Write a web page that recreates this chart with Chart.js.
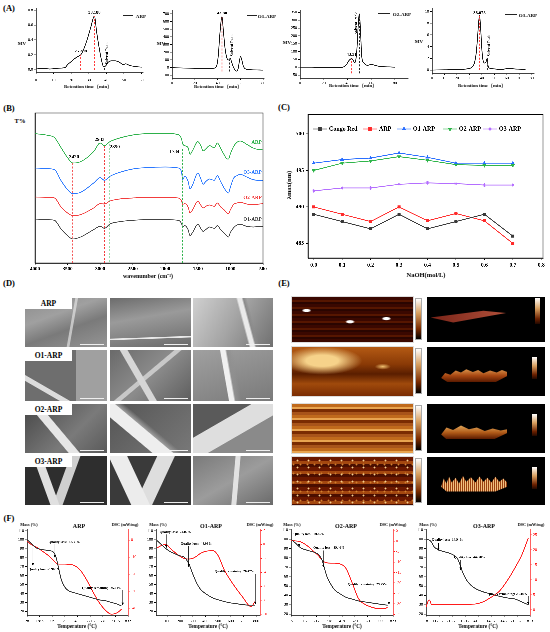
<!DOCTYPE html>
<html>
<head>
<meta charset="utf-8">
<title>ARP characterisation</title>
<script src="https://cdn.jsdelivr.net/npm/chart.js@4.4.1/dist/chart.umd.min.js"></script>
<style>
  body { margin:0; width:550px; height:632px; position:relative; overflow:hidden; background:#fff; }
  canvas { position:absolute; }
  .t { position:absolute; white-space:nowrap; line-height:1; font-family:'Liberation Serif','Times New Roman',serif; font-weight:bold; color:#000; }
  .tile { position:absolute; overflow:hidden; }
</style>
</head>
<body>
<script>
// ---- (A) HPGPC chromatograms ----
const rtARP = [0,4,8,12,16.5,18,20,22,24,25.4,27,29,31,33.19,34.5,36,37.5,38.5,39.5,41,43,45,47.5,49.5,51,53,56,60];
const mvARP = [0.01,0.02,0.01,0.02,0.03,0.07,0.11,0.15,0.18,0.2,0.27,0.4,0.56,0.72,0.5,0.28,0.1,0.04,0.05,0.1,0.12,0.12,0.1,0.07,0.08,0.06,0.045,0.035];
const rtO1 = [0,10,20,30,36,39,40.5,42,43.8,45,46.5,48,49.5,51,52.5,54,56.5,58,59,60,61,62.5,65,70,80];
const mvO1 = [0,-5,-8,-10,-8,20,150,450,665,480,250,130,100,120,60,0,-45,-10,80,145,110,20,-20,-28,-32];
const rtO2 = [0,10,20,30,36,39,41,43.5,45,46,47,48,49,50,51,52,54,57,60,63,67,75,80];
const mvO2 = [0,0,-2,-3,0,15,40,55,42,28,45,120,260,340,230,70,25,12,18,12,5,2,0];
const rtO3 = [0,10,20,28,32,34,35.5,36.5,37.5,38.08,39,40,41,42.5,43.5,44.2,45,46.5,50,55,60,62,66,70,75];
const mvO3 = [0,0.05,0.1,0.2,0.5,1.2,3,5.5,8.4,9.3,7.2,3.5,1.6,1.2,1.5,2.0,0.7,0.3,0.2,0.1,0.25,0.3,0.2,0.15,0.1];

// ---- (B) FT-IR ----
const wavenumber = [4000,3800,3700,3600,3500,3420,3300,3100,3000,2933,2850,2700,2500,2300,2000,1800,1750,1734,1700,1650,1620,1580,1500,1450,1420,1380,1320,1250,1200,1150,1100,1050,1030,1000,950,900,850,750,650,550,500];
const irARP = [388,383,376,346,316,300,304,334,360,352,364,375,384,388,389,385,372,358,352,346,326,338,364,350,336,342,352,346,360,344,326,312,312,328,350,362,366,356,345,340,342];
const irO3 = [285,283,280,247,220,208,212,240,256,248,260,272,282,286,288,285,272,250,260,245,222,235,270,250,236,244,252,248,262,244,226,212,210,228,255,262,266,258,250,248,248];
const irO2 = [198,197,195,168,150,142,145,165,178,177,186,192,195,197,197,195,186,176,178,168,150,160,185,172,165,170,174,170,180,168,160,150,148,160,176,180,182,177,175,177,178];
const irO1 = [132,130,128,102,82,72,78,100,110,104,117,124,128,130,130,128,118,108,112,100,82,92,116,102,95,100,108,104,112,100,90,80,78,92,106,114,116,110,108,110,110];

// ---- (C) Congo red, lambda max ----
const naoh = [0,0.1,0.2,0.3,0.4,0.5,0.6,0.7];
const lamCongo = [489,488,487,489,487,488,489,486];
const lamARP = [490,489,488,490,488.1,489.1,488.1,485];
const lamO1 = [496,496.5,496.7,497.4,496.8,496,496,496];
const lamO2 = [495,496,496.3,496.9,496.4,495.8,495.7,495.7];
const lamO3 = [492.2,492.6,492.6,493.1,493.3,493.2,493,493];

// ---- (F) TG-DSC ----
const tempARP = [30,60,100,150,200,240,260,280,300,330,360,400,450,500,550,600,650,700,750,780];
const massARP = [100,96,91,89,88,86,80,68,56,47,43,41,39,37,35,33,32,30,28,26];
const dscARP = [-0.6,-2.5,-4,-6.5,-9.2,-12,-13.5,-14.1,-14.1,-14.1,-14.3,-14.8,-17.5,-23,-30,-36.4,-41,-43.5,-42.5,-40.6];
const tempO1 = [20,50,90,120,150,200,230,270,300,330,360,400,460,500,550,600,650,700,740,760,790];
const massO1 = [99,95,90,87,85,82,81,73,62,52,45,40,35,33,31,29.5,28.5,27.5,27,27,27];
const dscO1 = [-0.5,-0.2,0,-0.5,-1,-1.7,-2,-2.1,-2,-1.7,-1.3,-1,-0.9,-1.6,-3.7,-5.2,-6.5,-7.7,-8.7,-8.9,-8.2];
const tempO2 = [15,50,90,150,200,230,260,280,300,330,360,400,450,500,550,600,650,700,750,780];
const massO2 = [100,96,91,88,86,84,78,69,60,52,46,42,38,36,34,33,32,31,30,29.5];
const dscO2 = [0.3,0.1,-0.3,-2.5,-5.2,-6.8,-9,-10,-10.4,-10.5,-10.5,-10.8,-13,-20,-27.5,-30.2,-31.5,-32.2,-32.3,-31.7];
const tempO3 = [20,35,45,60,80,110,150,200,230,260,280,300,330,360,400,450,500,580,650,700,750,800];
const massO3 = [100,99.5,99,97,92,89,87,85,83,79,72,64,56,51,47,44,42,39,37,36,33,30];
const dscO3 = [1.1,3,3.3,1.8,1.7,1.8,1.8,1.8,1.8,1.8,1.8,1.8,1.8,1.9,2,2.6,3.8,6.3,10.5,14.2,18.3,24];

const FONT = "'Liberation Serif','Times New Roman',serif";

// text and marks drawn on top of a chart, placed through its scales
Chart.register({
  id: 'marks',
  afterDatasetsDraw(chart, args, o) {
    const ctx = chart.ctx, a = chart.chartArea;
    const X = v => chart.scales.x.getPixelForValue(v);
    const Y = v => chart.scales.y.getPixelForValue(v);
    ctx.save();
    if (o.box) {
      ctx.strokeStyle = '#000'; ctx.lineWidth = 0.8;
      ctx.strokeRect(a.left, a.top, a.right - a.left, a.bottom - a.top);
    }
    (o.vlines || []).forEach(l => {
      ctx.strokeStyle = l.color; ctx.lineWidth = 0.8; ctx.setLineDash([2, 1.5]);
      ctx.beginPath(); ctx.moveTo(X(l.x), Y(l.y1)); ctx.lineTo(X(l.x), Y(l.y2)); ctx.stroke();
    });
    ctx.setLineDash([]);
    (o.arrows || []).forEach(l => {
      const x = X(l.x), y1 = Y(l.y1), y2 = Y(l.y2), d = y2 > y1 ? 1 : -1;
      ctx.strokeStyle = '#000'; ctx.fillStyle = '#000'; ctx.lineWidth = 0.5;
      ctx.beginPath(); ctx.moveTo(x, y1); ctx.lineTo(x, y2); ctx.stroke();
      ctx.beginPath(); ctx.moveTo(x, y2); ctx.lineTo(x - 1.2, y2 - d * 2.6); ctx.lineTo(x + 1.2, y2 - d * 2.6); ctx.closePath(); ctx.fill();
    });
    (o.texts || []).forEach(t => {
      ctx.save();
      ctx.translate(X(t.x), Y(t.y));
      if (t.rot) ctx.rotate(t.rot * Math.PI / 180);
      ctx.font = 'bold ' + (t.size || 4.5) + 'px ' + FONT;
      ctx.fillStyle = t.color || '#000';
      ctx.textAlign = t.align || 'center'; ctx.textBaseline = 'middle';
      ctx.fillText(t.s, 0, 0);
      ctx.restore();
    });
    if (o.legend) {
      const L = o.legend;
      L.items.forEach(it => {
        ctx.strokeStyle = it.color; ctx.fillStyle = it.color; ctx.lineWidth = 0.9;
        ctx.beginPath(); ctx.moveTo(it.x, L.y); ctx.lineTo(it.x + 14, L.y); ctx.stroke();
        Chart.helpers.drawPoint(ctx, { pointStyle: it.style, radius: 1.7, rotation: it.rot || 0, borderWidth: 0.8 }, it.x + 7, L.y);
        ctx.font = 'bold 6px ' + FONT; ctx.fillStyle = '#000'; ctx.textAlign = 'left'; ctx.textBaseline = 'middle';
        ctx.fillText(it.s, it.x + 16, L.y);
      });
    }
    ctx.restore();
  }
});

function scale(o) {
  const c = o.color || '#000';
  return {
    type: 'linear', position: o.pos || 'bottom', min: o.min, max: o.max, reverse: !!o.reverse,
    grid: { drawOnChartArea: false, drawTicks: o.noTicks ? false : true, tickLength: 2, color: c, lineWidth: 0.6 },
    border: { display: true, color: c, width: 0.8 },
    ticks: {
      display: o.labels !== false, stepSize: o.step, includeBounds: false, autoSkip: false,
      maxRotation: 0, minRotation: 0, padding: o.pad === undefined ? 1 : o.pad, color: c,
      font: { family: FONT, size: o.fs || 4.5, weight: o.bold ? 'bold' : 'normal' },
      callback: o.fmt || (v => String(Math.round(v * 1000) / 1000))
    }
  };
}

// area = chart area in page px [l,t,r,b]; m = margins [left,top,right,bottom]
function makeChart(area, m, cfg) {
  const c = document.createElement('canvas');
  const w = area[2] - area[0] + m[0] + m[2], h = area[3] - area[1] + m[1] + m[3];
  c.width = w; c.height = h;
  c.style.left = (area[0] - m[0]) + 'px'; c.style.top = (area[1] - m[1]) + 'px';
  c.style.width = w + 'px'; c.style.height = h + 'px';
  document.body.appendChild(c);
  let hasRight = false;
  Object.values(cfg.options.scales).forEach(s => {
    const p = s.position;
    if (p === 'right') hasRight = true;
    s.afterFit = ax => { if (p === 'bottom') ax.height = m[3]; else if (p === 'left') ax.width = m[0]; else ax.width = m[2]; };
  });
  Object.assign(cfg.options, { responsive: false, animation: false, devicePixelRatio: 3, events: [],
    layout: { padding: { top: m[1], right: hasRight ? 0 : m[2], left: 0, bottom: 0 } } });
  cfg.options.plugins = Object.assign({ legend: { display: false }, tooltip: { enabled: false } }, cfg.options.plugins);
  return new Chart(c, cfg);
}

function xy(xs, ys) { return xs.map((x, i) => ({ x: x, y: ys[i] })); }
function curve(data, color, extra) {
  return Object.assign({ data: data, borderColor: color, backgroundColor: color, borderWidth: 0.8,
    pointRadius: 0, cubicInterpolationMode: 'monotone', fill: false }, extra || {});
}

function txt(x, y, s, fs, o) {
  o = o || {};
  const d = document.createElement('div');
  d.className = 't'; d.textContent = s;
  d.style.left = x + 'px'; d.style.top = y + 'px'; d.style.fontSize = fs + 'px';
  if (o.color) d.style.color = o.color;
  d.style.transform = 'translate(-50%,-50%)' + (o.rot ? ' rotate(' + o.rot + 'deg)' : '');
  document.body.appendChild(d);
}
function keyLine(x1, x2, y) {
  const d = document.createElement('div');
  d.style.cssText = 'position:absolute;left:' + x1 + 'px;top:' + y + 'px;width:' + (x2 - x1) + 'px;border-top:1px solid #222;';
  document.body.appendChild(d);
}
function tile(x0, y0, x1, y1, bg, css) {
  const d = document.createElement('div');
  d.className = 'tile';
  d.style.cssText += 'left:' + x0 + 'px;top:' + y0 + 'px;width:' + (x1 - x0) + 'px;height:' + (y1 - y0) + 'px;background:' + bg + ';' + (css || '');
  document.body.appendChild(d);
  return d;
}

// panel letters
txt(9, 8, '(A)', 8.5); txt(9, 108, '(B)', 8.5); txt(284, 107, '(C)', 8.5);
txt(9, 283, '(D)', 8.5); txt(284, 283, '(E)', 8.5); txt(9, 518, '(F)', 8.5);

// ---- (A) ----
const redDash = '#ff3b3b';
makeChart([36, 8, 143, 72], [16, 4, 8, 14], {
  type: 'line', data: { datasets: [curve(xy(rtARP, mvARP), '#111')] },
  options: {
    scales: { x: scale({ min: 0, max: 60.8, step: 10, pad: 4, fs: 4 }), y: scale({ pos: 'left', min: -0.03, max: 0.83, step: 0.2, fs: 4, fmt: v => v.toFixed(1) }) },
    plugins: { marks: {
      vlines: [{ x: 25.4, y1: 0, y2: 0.2, color: redDash }, { x: 33.19, y1: 0, y2: 0.72, color: redDash }, { x: 38.8, y1: 0, y2: 0.05, color: '#222' }],
      texts: [{ x: 33.19, y: 0.77, s: '33.188' }, { x: 25.4, y: 0.25, s: '25.398' }, { x: 40.3, y: 0.22, s: 'Solvent Peak', rot: -90, size: 4 }]
    } }
  }
});
makeChart([172, 10, 264, 78], [14, 4, 8, 10], {
  type: 'line', data: { datasets: [curve(xy(rtO1, mvO1), '#111')] },
  options: {
    scales: { x: scale({ min: 0, max: 80.6, step: 20, pad: 1, fs: 4 }), y: scale({ pos: 'left', min: -135, max: 752, step: 100, fs: 4 }) },
    plugins: { marks: {
      vlines: [{ x: 43.8, y1: -50, y2: 660, color: redDash }, { x: 50.5, y1: -50, y2: 95, color: '#222' }],
      texts: [{ x: 43.8, y: 712, s: '43.80' }, { x: 52.6, y: 290, s: 'Solvent Peak', rot: -90, size: 4 }]
    } }
  }
});
makeChart([300, 10, 408, 78], [14, 4, 8, 10], {
  type: 'line', data: { datasets: [curve(xy(rtO2, mvO2), '#111')] },
  options: {
    scales: { x: scale({ min: 0, max: 91, step: 20, pad: 1, fs: 4 }), y: scale({ pos: 'left', min: -69, max: 365, step: 50, fs: 4 }) },
    plugins: { marks: {
      vlines: [{ x: 43.5, y1: -40, y2: 55, color: redDash }, { x: 50, y1: -40, y2: 335, color: '#222' }],
      texts: [{ x: 43.5, y: 80, s: '43.51' }, { x: 47.4, y: 280, s: 'Solvent Peak', rot: -90, size: 4 }]
    } }
  }
});
makeChart([432, 8, 534, 73], [14, 4, 8, 10], {
  type: 'line', data: { datasets: [curve(xy(rtO3, mvO3), '#111')] },
  options: {
    scales: { x: scale({ min: 0, max: 81.8, step: 10, pad: 1, fs: 4 }), y: scale({ pos: 'left', min: -0.5, max: 10.6, step: 2, fs: 4 }) },
    plugins: { marks: {
      vlines: [{ x: 38.08, y1: 0, y2: 9.3, color: redDash }, { x: 44.3, y1: 0, y2: 2, color: '#222' }],
      texts: [{ x: 38.08, y: 9.8, s: '38.078' }, { x: 45.8, y: 4.2, s: 'Solvent Peak', rot: -90, size: 4 }]
    } }
  }
});
txt(22, 43, 'MV', 5); txt(161, 43, 'MV', 5); txt(287, 42, 'MV', 5); txt(419, 41, 'MV', 5);
txt(88, 87, 'Retention time（min）', 4.8); txt(218, 87, 'Retention time（min）', 4.8);
txt(353, 86, 'Retention time（min）', 4.8); txt(482, 86, 'Retention time（min）', 4.8);
keyLine(123, 133, 15); txt(141, 15.5, 'ARP', 5);
keyLine(247, 257, 15); txt(267, 15.5, 'O1-ARP', 5);
keyLine(378, 390, 13); txt(402, 13.5, 'O2-ARP', 5);
keyLine(505, 517, 14); txt(528, 14.5, 'O3-ARP', 5);

// ---- (B) ----
const cGreen = '#2db14a', cBlue = '#2a78ff', cRed = '#f23c3c', cGray = '#444';
makeChart([33, 113, 263, 263], [4, 4, 8, 14], {
  type: 'line',
  data: { datasets: [
    curve(xy(wavenumber, irARP), cGreen), curve(xy(wavenumber, irO3), cBlue),
    curve(xy(wavenumber, irO2), cRed), curve(xy(wavenumber, irO1), cGray)
  ] },
  options: {
    scales: { x: scale({ min: 500, max: 4000, step: 500, reverse: true, bold: true, fs: 5 }), y: scale({ pos: 'left', min: 0, max: 450, labels: false, noTicks: true }) },
    plugins: { marks: {
      box: true,
      vlines: [{ x: 3420, y1: 300, y2: 0, color: cRed }, { x: 2933, y1: 352, y2: 0, color: cRed },
               { x: 2850, y1: 356, y2: 0, color: cGreen }, { x: 1734, y1: 342, y2: 0, color: cGreen }],
      texts: [{ x: 3400, y: 318, s: '3420', size: 5 }, { x: 3008, y: 370, s: '2933', size: 5 },
              { x: 2775, y: 348, s: '2850', size: 5 }, { x: 1860, y: 334, s: '1734', size: 5 },
              { x: 520, y: 362, s: 'ARP', size: 5, align: 'right', color: cGreen },
              { x: 520, y: 272, s: 'O3-ARP', size: 5, align: 'right', color: cBlue },
              { x: 520, y: 196, s: 'O2-ARP', size: 5, align: 'right', color: cRed },
              { x: 520, y: 131, s: 'O1-ARP', size: 5, align: 'right', color: cGray }]
    } }
  }
});
txt(20, 121, 'T%', 6.5);
txt(148, 276, 'wavenumber (cm⁻¹)', 6);

// ---- (C) ----
const cPurple = '#b46eff';
function pts(ys, color, style, rot) {
  return { data: xy(naoh, ys), borderColor: color, backgroundColor: color, borderWidth: 0.9,
    pointStyle: style, pointRotation: rot || 0, pointRadius: 1.7, pointBorderWidth: 0.6, fill: false };
}
makeChart([308, 113, 543, 258], [18, 4, 6, 12], {
  type: 'line',
  data: { datasets: [
    pts(lamCongo, '#3a3a3a', 'rect'), pts(lamARP, '#ff2a2a', 'rect'), pts(lamO1, '#2a6fff', 'triangle'),
    pts(lamO2, '#2fb54a', 'triangle', 180), pts(lamO3, cPurple, 'star')
  ] },
  options: {
    scales: { x: scale({ min: -0.02, max: 0.806, step: 0.1, bold: true, fs: 5.5, pad: 2, fmt: v => v.toFixed(1) }),
              y: scale({ pos: 'left', min: 483, max: 502.7, step: 5, bold: true, fs: 5.5, pad: 2 }) },
    plugins: { marks: {
      box: true,
      legend: { y: 20, items: [
        { x: 23, s: 'Congo Red', color: '#3a3a3a', style: 'rect' },
        { x: 73, s: 'ARP', color: '#ff2a2a', style: 'rect' },
        { x: 107, s: 'O1-ARP', color: '#2a6fff', style: 'triangle' },
        { x: 153, s: 'O2-ARP', color: '#2fb54a', style: 'triangle', rot: 180 },
        { x: 193, s: 'O3-ARP', color: cPurple, style: 'star' }
      ] }
    } }
  }
});
txt(289, 185, 'λmax(nm)', 6.5, { rot: -90 });
txt(426, 275, 'NaOH(mol/L)', 6.5);

// ---- (D) SEM micrographs ----
const semCols = [[25, 107], [110, 191], [193, 273]];
const semRows = [[298, 347], [350, 401], [404, 453], [456, 505]];
const semBg = [
  ['linear-gradient(100deg,transparent 55%,rgba(225,225,225,.7) 56% 58%,transparent 59%),linear-gradient(160deg,#8c8c8c 0%,#a0a0a0 35%,#7a7a7a 60%,#959595 100%)',
   'linear-gradient(178deg,transparent 78%,#e8e8e8 79% 81%,transparent 82%),linear-gradient(170deg,#6c6c6c,#9a9a9a 40%,#828282 70%,#6a6a6a)',
   'linear-gradient(75deg,transparent 60%,#eaeaea 62% 66%,#8a8a8a 68%,transparent 72%),linear-gradient(120deg,#d0d0d0,#a4a4a4 50%,#707070)'],
  ['linear-gradient(30deg,transparent 20%,#dcdcdc 21% 26%,transparent 27%),linear-gradient(90deg,#6e6e6e 0 62%,#a0a0a0 62% 100%)',
   'linear-gradient(60deg,transparent 35%,#d6d6d6 36% 42%,transparent 43%),linear-gradient(140deg,transparent 45%,#c8c8c8 46% 50%,transparent 51%),linear-gradient(135deg,#6a6a6a,#8c8c8c,#5e5e5e)',
   'linear-gradient(80deg,transparent 40%,#f0f0f0 41% 46%,#909090 48%,transparent 55%),linear-gradient(160deg,#a0a0a0,#7a7a7a)'],
  ['linear-gradient(50deg,transparent 35%,#e6e6e6 36% 44%,transparent 45%),linear-gradient(135deg,#474747,#7a7a7a 60%,#5a5a5a)',
   'linear-gradient(40deg,transparent 30%,#eeeeee 31% 45%,#9a9a9a 46%,transparent 52%),linear-gradient(135deg,#555,#787878)',
   'linear-gradient(150deg,#5a5a5a 0 35%,#dedede 36% 60%,#8a8a8a 61% 100%)'],
  ['linear-gradient(70deg,transparent 25%,#e0e0e0 26% 34%,transparent 35%),linear-gradient(110deg,transparent 45%,#cfcfcf 46% 55%,transparent 56%),#2e2e2e',
   'linear-gradient(65deg,transparent 20%,#ececec 21% 38%,transparent 39%),linear-gradient(115deg,transparent 45%,#dedede 46% 62%,transparent 63%),#3a3a3a',
   'linear-gradient(95deg,transparent 50%,#e2e2e2 51% 56%,transparent 57%),linear-gradient(150deg,#7a7a7a,#9c9c9c 50%,#6a6a6a)']
];
const semNames = ['ARP', 'O1-ARP', 'O2-ARP', 'O3-ARP'];
semRows.forEach((r, i) => {
  semCols.forEach((c, j) => {
    const d = tile(c[0], r[0], c[1], r[1], semBg[i][j]);
    const bar = document.createElement('div');
    bar.style.cssText = 'position:absolute;right:3px;bottom:2px;width:24px;border-top:1px solid #eee;';
    d.appendChild(bar);
  });
  const lab = tile(25, r[0], 72, r[0] + 11, '#fff');
  lab.className = 'tile t';
  lab.style.cssText += 'font-size:7.5px;text-align:center;line-height:11px;';
  lab.textContent = semNames[i];
});

// ---- (E) AFM images ----
const afmRows = [[297, 342], [347, 396], [404, 453], [457, 505]];
const afmLeft = [
  'radial-gradient(ellipse 5px 2px at 12% 30%,#fff 0 55%,transparent 100%),radial-gradient(ellipse 5px 2px at 48% 55%,#fff 0 55%,transparent 100%),radial-gradient(ellipse 5px 2px at 78% 48%,#fff 0 55%,transparent 100%),repeating-linear-gradient(180deg,#3a0800 0 3px,#561600 3px 5px,#2a0500 5px 7px)',
  'radial-gradient(ellipse 40px 14px at 25% 28%,#f6d28a 0 40%,transparent 100%),radial-gradient(ellipse 8px 3px at 75% 40%,#f0c070,transparent),linear-gradient(180deg,#b45a14 0%,#8a3a06 35%,#5a1e00 55%,#a04a0c 75%,#7a2c02 100%)',
  'repeating-linear-gradient(180deg,#c06a1c 0 3px,#e8a450 3px 5px,#7a2c02 5px 8px,#a8541a 8px 11px)',
  'radial-gradient(circle,#f4d090 0 0.7px,transparent 1.2px) 0 0/11px 7px,radial-gradient(circle,#d08030 0 0.7px,transparent 1.2px) 5px 3px/7px 9px,repeating-linear-gradient(180deg,#6a1800 0 4px,#a44810 4px 7px,#4a0e00 7px 10px)'
];
const afmShape = [
  'polygon(0% 62%,70% 22%,100% 36%,30% 92%)',
  'polygon(0% 75%,6% 45%,14% 55%,22% 30%,30% 42%,38% 22%,48% 38%,56% 26%,64% 46%,74% 30%,84% 42%,92% 26%,100% 38%,100% 62%,82% 100%,10% 100%)',
  'polygon(0% 72%,8% 30%,18% 44%,30% 18%,42% 40%,54% 30%,66% 50%,78% 36%,90% 48%,100% 40%,100% 62%,80% 100%,8% 100%)',
  'polygon(0% 70%,4% 20%,8% 50%,12% 10%,16% 45%,22% 15%,27% 50%,33% 5%,38% 40%,45% 12%,52% 45%,58% 8%,64% 40%,70% 15%,76% 45%,82% 10%,88% 40%,94% 20%,100% 45%,100% 70%,82% 100%,8% 100%)'
];
const afmShapeBg = [
  'linear-gradient(90deg,#7a2418,#b0503a)',
  'linear-gradient(180deg,#f2b866,#a84812 60%,#5a1a00)',
  'linear-gradient(180deg,#f0c070,#b05a18 60%,#5a1a00)',
  'repeating-linear-gradient(90deg,#f0c080 0 1px,#9a4010 1px 2px)'
];
afmRows.forEach((r, i) => {
  tile(292, r[0], 413, r[1], afmLeft[i], 'outline:1px solid #ddd;');
  tile(416, r[0] + 2, 421, r[1] - 3, 'linear-gradient(#fff,#d8a060 35%,#7a2a00 75%,#000)', 'outline:0.5px solid #aaa;');
  const right = tile(427, r[0], 545, r[1], '#000');
  const s = document.createElement('div');
  s.style.cssText = 'position:absolute;left:' + (i === 0 ? 3 : 12) + '%;top:' + (i === 0 ? 22 : 38) + '%;width:' + (i === 0 ? 64 : 56) + '%;height:' + (i === 0 ? 38 : 34) + '%;background:' + afmShapeBg[i] + ';clip-path:' + afmShape[i] + ';';
  right.appendChild(s);
  const cb = document.createElement('div');
  cb.style.cssText = 'position:absolute;right:' + (i === 0 ? 5 : 8) + 'px;top:' + (i === 0 ? 1 : 10) + 'px;width:5px;height:' + (i === 0 ? 26 : 22) + 'px;background:linear-gradient(#fff,#d8a060 40%,#6a2000 80%,#200800);';
  right.appendChild(cb);
});

// ---- (F) TG-DSC ----
function tgChart(area, xr, lr, rr, temp, mass, dsc, notes) {
  return makeChart(area, [12, 4, 12, 10], {
    type: 'line',
    data: { datasets: [
      curve(xy(temp, mass), '#333', { yAxisID: 'y', borderWidth: 0.9 }),
      curve(xy(temp, dsc), '#ff1a1a', { yAxisID: 'y2', borderWidth: 0.9 })
    ] },
    options: {
      scales: {
        x: scale({ min: xr[0], max: xr[1], step: 100, pad: 2, fs: 4 }),
        y: scale({ pos: 'left', min: lr[0], max: lr[1], step: 10, fs: 4 }),
        y2: scale({ pos: 'right', min: rr[0], max: rr[1], step: rr[2], fs: 4, color: '#ff1a1a' })
      },
      plugins: { marks: notes }
    }
  });
}
tgChart([27, 529, 128, 615], [28, 832], [16, 112], [-44, 6.5, 10], tempARP, massARP, dscARP, {
  arrows: [{ x: 75, y1: 91, y2: 71 }, { x: 250, y1: 95, y2: 80 }, { x: 790, y1: 44, y2: 27 }],
  texts: [{ x: 40, y: 67, s: 'Quality loss: -5.968%', size: 3.4, align: 'left' },
          { x: 200, y: 97.5, s: 'Quality loss: -48.30%', size: 3.4, align: 'left' },
          { x: 780, y: 46, s: 'Quality remaining: 25.41%', size: 3.4, align: 'right' }]
});
tgChart([156, 529, 260, 615], [11, 830], [16, 112], [-10.1, 2.2, 2], tempO1, massO1, dscO1, {
  arrows: [{ x: 92, y1: 106, y2: 91 }, { x: 268, y1: 93, y2: 70 }, { x: 793, y1: 62, y2: 28 }],
  texts: [{ x: 40, y: 108.5, s: 'Quality loss: -24.02%', size: 3.4, align: 'left' },
          { x: 205, y: 95.5, s: 'Quality loss: -48.03%', size: 3.4, align: 'left' },
          { x: 785, y: 64.5, s: 'Quality remaining: 26.47%', size: 3.4, align: 'right' }]
});
tgChart([291, 529, 393, 615], [15, 823], [19, 111], [-35.3, 5.8, 5], tempO2, massO2, dscO2, {
  arrows: [{ x: 79, y1: 104, y2: 92 }, { x: 271, y1: 88, y2: 70 }, { x: 791, y1: 48, y2: 30 }],
  texts: [{ x: 34, y: 105.5, s: 'Quality loss: -20.85%', size: 3.4, align: 'left' },
          { x: 192, y: 91, s: 'Quality loss: -39.46%', size: 3.4, align: 'left' },
          { x: 778, y: 51.5, s: 'Quality remaining: 29.75%', size: 3.4, align: 'right' }]
});
tgChart([426, 529, 530, 615], [18, 813], [19, 111], [-1.7, 27, 5], tempO3, massO3, dscO3, {
  arrows: [{ x: 113, y1: 96, y2: 88 }, { x: 283, y1: 78, y2: 67 }, { x: 800, y1: 39, y2: 30 }],
  texts: [{ x: 62, y: 99.5, s: 'Quality loss: -14.94%', size: 3.4, align: 'left' },
          { x: 232, y: 80.5, s: 'Quality loss: -64.58%', size: 3.4, align: 'left' },
          { x: 790, y: 41.5, s: 'Quality remaining: 28.48%', size: 3.4, align: 'right' }]
});
txt(29, 525, 'Mass (%)', 4.2); txt(125, 525, 'DSC (mW/mg)', 4.2); txt(79, 526, 'ARP', 6); txt(77, 627, 'Temperature (°C)', 5.2);
txt(158, 525, 'Mass (%)', 4.2); txt(260, 525, 'DSC (mW/mg)', 4.2); txt(211, 526, 'O1-ARP', 6); txt(208, 627, 'Temperature (°C)', 5.2);
txt(292, 525, 'Mass (%)', 4.2); txt(393, 525, 'DSC (mW/mg)', 4.2); txt(346, 526, 'O2-ARP', 6); txt(342, 627, 'Temperature (°C)', 5.2);
txt(428, 525, 'Mass (%)', 4.2); txt(531, 525, 'DSC (mW/mg)', 4.2); txt(484, 526, 'O3-ARP', 6); txt(478, 627, 'Temperature (°C)', 5.2);
</script>
</body>
</html>
